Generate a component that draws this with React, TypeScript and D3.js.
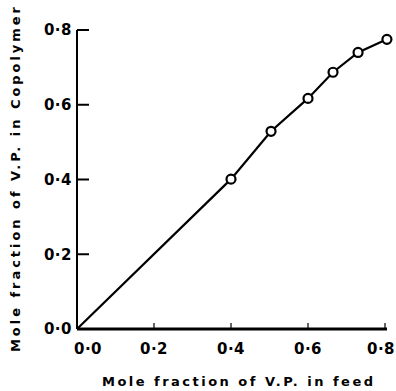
import React from "react";
import * as d3 from "d3";

const feedFraction = [0, 0.4, 0.504, 0.6, 0.665, 0.73, 0.805];
const copolymerFraction = [0, 0.401, 0.529, 0.617, 0.687, 0.74, 0.775];
const markerIndices = [1, 2, 3, 4, 5, 6];
const xTicks = [0, 0.2, 0.4, 0.6, 0.8];
const yTicks = [0, 0.2, 0.4, 0.6, 0.8];
const xTitle = "Mole fraction of V.P. in feed";
const yTitle = "Mole fraction of V.P. in Copolymer";

const fmt = (v: number) => v.toFixed(1).replace(".", "\u00B7");

export default function App() {
  const W = 396, H = 391;
  const x = d3.scaleLinear().domain([0, 0.8]).range([77, 385]);
  const y = d3.scaleLinear().domain([0, 0.8]).range([329, 30]);
  const pts = feedFraction.map((f, i) => [f, copolymerFraction[i]] as [number, number]);
  const line = d3.line<[number, number]>().x(d => x(d[0])).y(d => y(d[1]));
  const font = "'DejaVu Sans', sans-serif";
  const xLabelPos = (t: number) => (t === 0 ? x(t) + 11 : t === 0.8 ? x(t) - 4 : x(t));
  return (
    <svg width={W} height={H} style={{ position: "absolute", left: 0, top: 0, background: "#fff" }}>
      <line x1={x(0)} y1={y(0)} x2={x(0)} y2={y(0.8)} stroke="#000" strokeWidth={2} />
      <line x1={x(0)} y1={y(0)} x2={x(0.8) + 2} y2={y(0)} stroke="#000" strokeWidth={3} />
      {yTicks.map(t => (
        <g key={"y" + t}>
          {t > 0 && <line x1={x(0)} x2={x(0) + 12} y1={y(t)} y2={y(t)} stroke="#000" strokeWidth={2} />}
          <text x={72} y={y(t)} dy="0.36em" textAnchor="end" fontFamily={font} fontWeight="bold" fontSize={15} letterSpacing={0.5}>{fmt(t)}</text>
        </g>
      ))}
      {xTicks.map(t => (
        <g key={"x" + t}>
          {t > 0 && <line x1={x(t)} x2={x(t)} y1={y(0)} y2={y(0) - 6} stroke="#000" strokeWidth={1.2} />}
          <text x={xLabelPos(t)} y={349} dy="0.36em" textAnchor="middle" fontFamily={font} fontWeight="bold" fontSize={15} letterSpacing={0.5}>{fmt(t)}</text>
        </g>
      ))}
      <path d={line(pts) || ""} fill="none" stroke="#000" strokeWidth={2.2} />
      {markerIndices.map(i => (
        <circle key={i} cx={x(feedFraction[i])} cy={y(copolymerFraction[i])} r={4.5} fill="#fff" stroke="#000" strokeWidth={2.2} />
      ))}
      <text x={102} y={386} textLength={271} lengthAdjust="spacing" fontFamily={font} fontWeight="bold" fontSize={13}>{xTitle}</text>
      <text transform="translate(20,352) rotate(-90)" x={0} y={0} textLength={345} lengthAdjust="spacing" fontFamily={font} fontWeight="bold" fontSize={13}>{yTitle}</text>
    </svg>
  );
}
